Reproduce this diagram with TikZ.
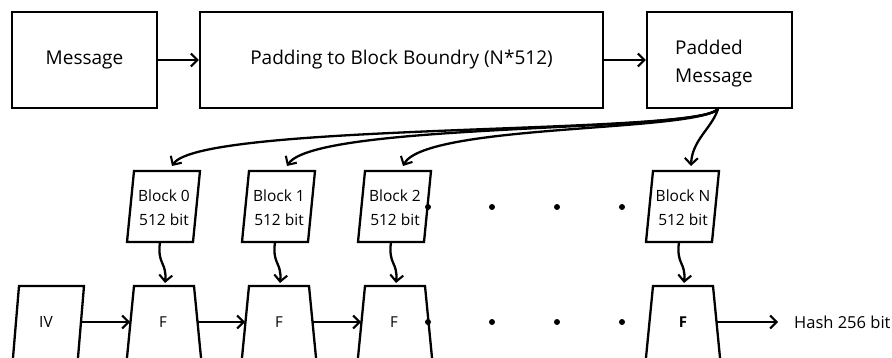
\documentclass[tikz,border=0pt]{standalone}
\usepackage{fontspec}
\setmainfont{Open Sans}
\usetikzlibrary{arrows.meta}
\begin{document}
\begin{tikzpicture}[x=1pt,y=-1pt,line width=2.3pt,line join=miter,
  every node/.style={inner sep=0pt},
  tip/.style={-{Straight Barb[length=6.5pt,width=13pt,line width=2.1pt]}},
  box/.style={draw,rectangle,minimum height=96},
  big/.style={font=\fontsize{19}{28}\selectfont},
  lbl/.style={font=\fontsize{15.5}{24}\selectfont,align=center},
  ftxt/.style={font=\fontsize{15}{16}\selectfont},
  dot/.style={fill=black}]
\useasboundingbox (0,0) rectangle (892,358);
\clip (0,0) rectangle (892,358);

% top row: message -> padding -> padded message
\node[box,big,minimum width=145] (msg) at (84.5,60) {Message};
\node[box,big,minimum width=403] (pad) at (401.5,60) {Padding to Block Boundry (N*512)};
\node[box,minimum width=145] (pm) at (719.5,60) {};
\node[big,align=left] (pmtxt) at (714,64) {Padded\\Message};
\draw[tip] (msg.east) -- (pad.west);
\draw[tip] (pad.east) -- (pm.west);

% message blocks and compression functions
\foreach \i/\x/\t in {0/134/Block 0,1/249/Block 1,2/365/Block 2,N/653/Block N}{
  \draw (\x,171) -- (\x+66,171) -- (\x+59,242) -- (\x-7,242) -- cycle;
  \node[lbl] (blk\i) at (\x+30,208) {\t\\512 bit};
  \coordinate (blk\i-in) at (\x+38,166);
  \coordinate (blk\i-out) at (\x+26,242);
  \draw (\x-8.4,372) -- (\x,286) -- (\x+60,286) -- (\x+68.4,372);
  \coordinate (f\i-in) at (\x+31,283);
  \coordinate (f\i-l) at (\x-4,322);
  \coordinate (f\i-r) at (\x+64,322);
  \draw[tip] (blk\i-out) .. controls (\x+23,265) and (\x+33,262) .. (f\i-in);
}
\node[ftxt] (f0) at (163,322) {F};
\node[ftxt] (f1) at (279,322) {F};
\node[ftxt] (f2) at (394,322) {F};
\node[ftxt,font=\fontsize{15}{16}\selectfont\bfseries] (fN) at (683,322) {F};

% initial value
\draw (11.8,372) -- (19,286) -- (84,286) -- (76.8,372);
\node[lbl] (iv) at (46,322) {IV};
\coordinate (iv-r) at (81,322);

% chaining
\draw[tip] (iv-r) -- (f0-l);
\draw[tip] (f0-r) -- (f1-l);
\draw[tip] (f1-r) -- (f2-l);
\node[lbl,anchor=west,font=\fontsize{16.5}{20}\selectfont] (hash) at (793,322) {Hash 256 bit};
\coordinate (hash-in) at (778,322);
\draw[tip] (fN-r) -- (hash-in);

% splitting the padded message
\coordinate (src) at (718,109);
\draw[tip] (src) .. controls (700,135) and (200,122) .. (blk0-in);
\draw[tip] (src) .. controls (697,133) and (315,122) .. (blk1-in);
\draw[tip] (src) .. controls (694,132) and (425,124) .. (blk2-in);
\draw[tip] (src) .. controls (712,128) and (692,140) .. (blkN-in);

% ellipsis dots
\foreach \x in {428,492,557,622}{
  \fill[dot] (\x,207) circle (3);
  \fill[dot] (\x,322) circle (3);
}
\end{tikzpicture}
\end{document}
